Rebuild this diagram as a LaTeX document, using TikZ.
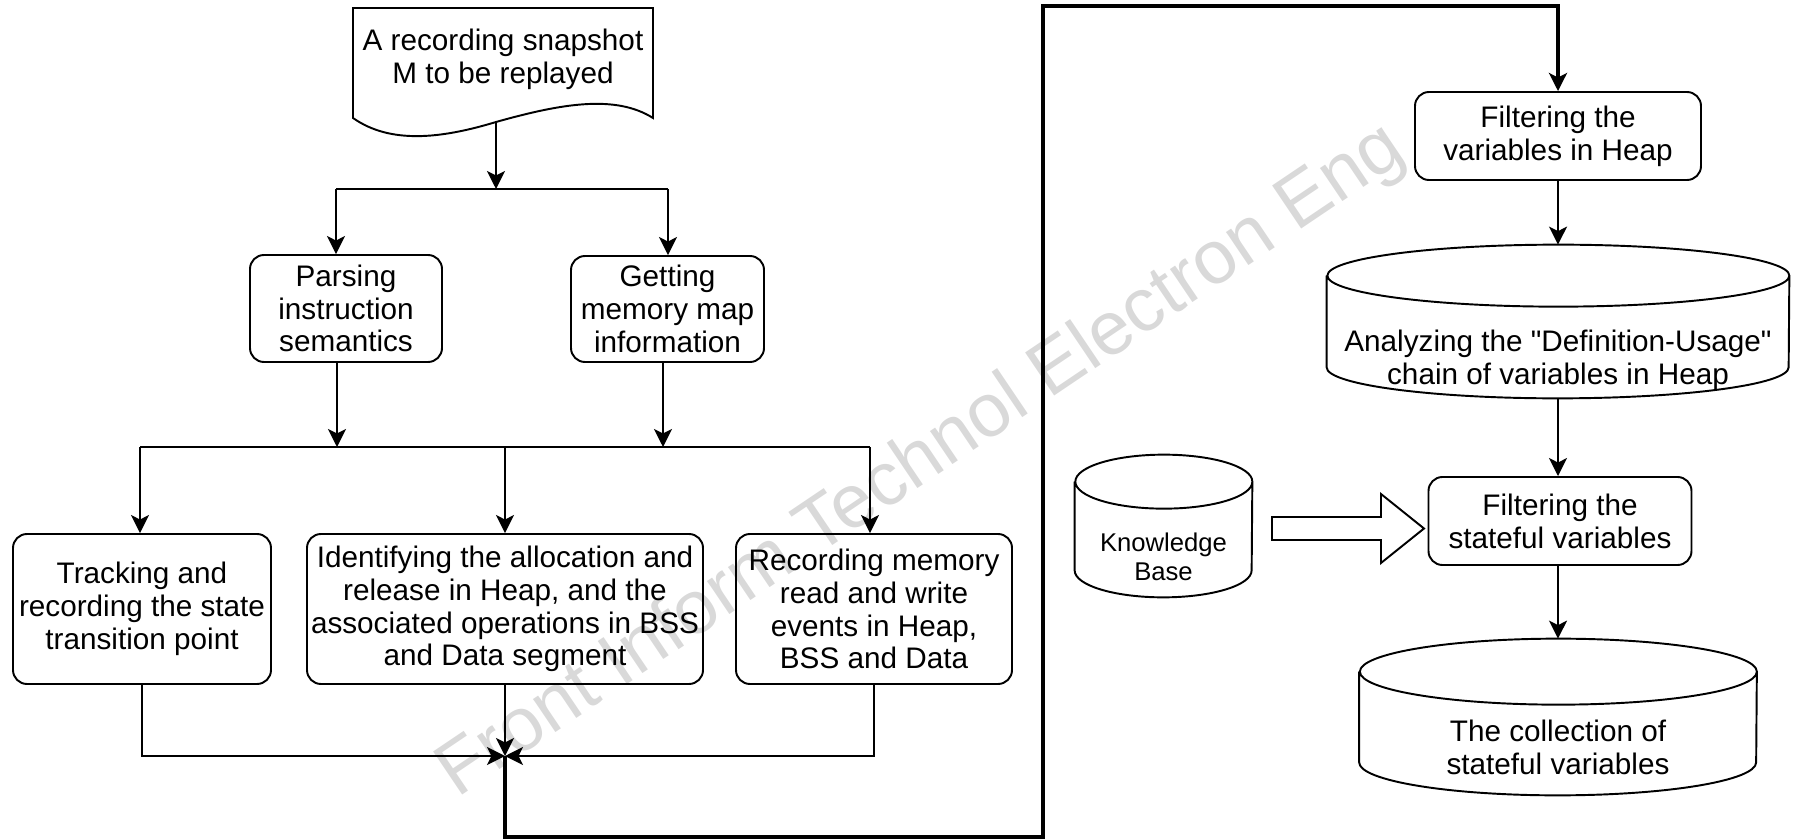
\documentclass[tikz,border=0pt]{standalone}
\usepackage{fontspec}
\setmainfont{Liberation Sans}
\newfontfamily\quotefont{Liberation Sans}
\usetikzlibrary{arrows.meta}

\tikzset{
  procbox/.style={draw, rounded corners=2.8mm, line width=1.1pt, align=center, inner sep=0pt},
  cylbox/.style={inner sep=0pt},
  cyltext/.style={align=center},
  link/.style={line width=1.1pt},
  flow/.style={line width=1.1pt, -{Stealth[length=3.6mm, width=3.6mm, inset=0.9mm]}},
  mainflow/.style={line width=1.9pt, -{Stealth[length=3.6mm, width=3.6mm, inset=0.9mm]}},
}
% cylinder outline around a node: name, x radius, y radius
\newcommand\cylframe[3]{%
  \draw[link] ([yshift=-#3]#1.north west) -- ([yshift=#3]#1.south west)
    arc[start angle=180, end angle=360, x radius=#2, y radius=#3]
    -- ([yshift=-#3]#1.north east)
    arc[start angle=0, end angle=360, x radius=#2, y radius=#3];}

\begin{document}
\begin{tikzpicture}[x=0.2mm, y=0.2mm, font=\fontsize{16.9}{18.7}\selectfont]
\useasboundingbox (0,0) rectangle (1800,839);

% watermark
\node[rotate=34, text=black!15, font=\fontsize{43}{50}\selectfont] (wmark) at (922,377) {Front Inform Technol Electron Eng};

% snapshot
\draw[link] (353,831) -- (653,831) -- (653,721)
    .. controls (615,745) and (560,735) .. (496,717)
    .. controls (440,700) and (390,695) .. (353,721) -- cycle;
\node[align=center] (snap) at (503,780) {A recording snapshot\\M to be replayed};
\coordinate (snapout) at (496,717);
\coordinate (splitA) at (496,650);
\coordinate (splitAl) at (336,650);
\coordinate (splitAr) at (668,650);

\node[procbox, minimum width=38.4mm, minimum height=21.4mm] (parse) at (346,530.5) {Parsing\\instruction\\semantics};
\node[procbox, minimum width=38.6mm, minimum height=21.2mm] (getmem) at (667.5,530) {Getting\\memory map\\information};

\draw[flow] (snapout) -- (splitA);
\draw[link] (splitAl) -- (splitAr);
\draw[flow] (splitAl) -- (splitAl |- parse.north);
\draw[flow] (splitAr) -- (splitAr |- getmem.north);

% second split
\coordinate (splitB) at (505,392);
\coordinate (splitBl) at (140,392);
\coordinate (splitBr) at (870,392);
\draw[flow] ([xshift=-1.8mm]parse.south) -- ([xshift=-1.8mm]parse.south |- splitB);
\draw[flow] ([xshift=-0.9mm]getmem.south) -- ([xshift=-0.9mm]getmem.south |- splitB);
\draw[link] (splitBl) -- (splitBr);

\node[procbox, minimum width=51.6mm, minimum height=30mm] (track) at (142,230) {Tracking and\\recording the state\\transition point};
\node[procbox, minimum width=79.2mm, minimum height=30mm] (ident) at (505,230) {Identifying the allocation and\\release in Heap, and the\\associated operations in BSS\\and Data segment};
\node[procbox, minimum width=55.2mm, minimum height=30mm] (rec) at (874,230) {Recording memory\\read and write\\events in Heap,\\BSS and Data};

\draw[flow] (splitBl) -- (splitBl |- track.north);
\draw[flow] (splitB) -- (splitB |- ident.north);
\draw[flow] (splitBr) -- (splitBr |- rec.north);

% merge
\coordinate (merge) at (505,83);
\coordinate (turnlow) at (1043,2);
\coordinate (turnhigh) at (1043,833);
\draw[flow] (track.south) |- (merge);
\draw[flow] (rec.south) |- (merge);
\draw[flow] (ident.south) -- (merge);

% right column
\node[procbox, minimum width=57.2mm, minimum height=17.6mm] (filterheap) at (1558,703) {Filtering the\\variables in Heap};
\draw[mainflow] (merge) |- (turnlow) -- (turnhigh) -| (filterheap.north);

\node[cylbox, minimum width=92.4mm, minimum height=30.6mm] (analyze) at (1558,517.5) {};
\cylframe{analyze}{46.2mm}{6.2mm}
\node[cyltext] (analyzetxt) at (1558,479) {Analyzing the {\quotefont"}Definition-Usage{\quotefont"}\\chain of variables in Heap};

\node[procbox, minimum width=52.6mm, minimum height=17.6mm] (filterstate) at (1560,318) {Filtering the\\stateful variables};

\node[cylbox, minimum width=79.4mm, minimum height=31.2mm] (collect) at (1558,122) {};
\cylframe{collect}{39.7mm}{6.6mm}
\node[cyltext] (collecttxt) at (1558,91.5) {The collection of\\stateful variables};

\node[cylbox, minimum width=35.4mm, minimum height=28.4mm] (kbase) at (1163.5,313) {};
\cylframe{kbase}{17.7mm}{5.4mm}
\node[cyltext, font=\fontsize{14.6}{16.4}\selectfont] (kbasetxt) at (1163.5,282.5) {Knowledge\\Base};

\draw[flow] (filterheap.south) -- (filterheap.south |- analyze.north);
\draw[flow] (analyze.south) -- (analyze.south |- filterstate.north);
\draw[flow] (analyze.south |- filterstate.south) -- (analyze.south |- collect.north);

% hollow arrow
\draw[link, line join=miter] (1272,322) -- (1381,322) -- (1381,345) -- (1424,310.5)
    -- (1381,276) -- (1381,299) -- (1272,299) -- cycle;
\end{tikzpicture}
\end{document}
